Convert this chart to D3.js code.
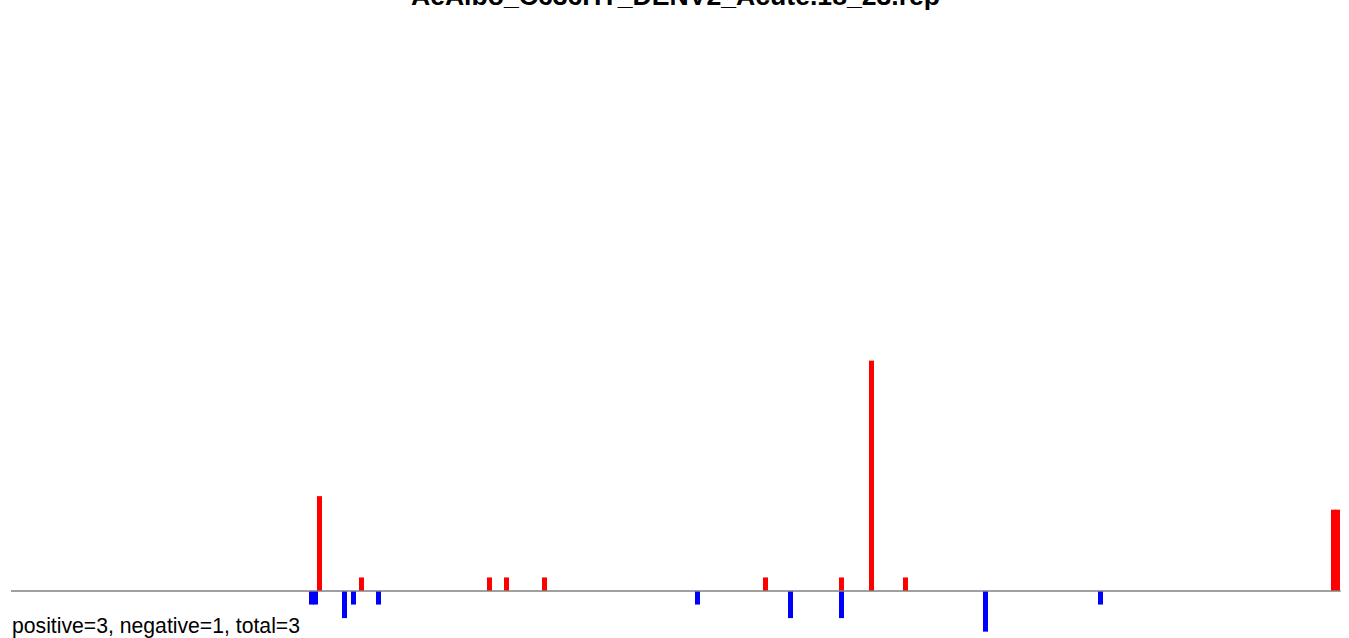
<!DOCTYPE html>
<html>
<head>
<meta charset="utf-8">
<script src="https://cdn.jsdelivr.net/npm/d3@7"></script>
<style>
  html, body { margin: 0; padding: 0; background: #fff; }
  svg { display: block; }
</style>
</head>
<body>
<svg id="chart" width="1349" height="638"></svg>
<script>
const title = "AeAlbo_C636HT_DENV2_Acute.18_23.rep";
const summary = "positive=3, negative=1, total=3";

// positions along the sequence (left edge) and counts
const posPositions = [306, 348, 476, 493, 531, 752, 828, 858, 892, 1320, 1324];
const posValues    = [7,   1,   1,   1,   1,   1,   1,   17,  1,   6,    6];
const negPositions = [298, 302, 331, 340, 365, 684, 777, 828, 972, 1087];
const negValues    = [1,   1,   2,   1,   1,   1,   2,   2,   3,   1];
const seqLength = 1329;
const barSpan = 5;

const svg = d3.select("#chart");
const x = d3.scaleLinear().domain([0, seqLength]).range([11, 1340]);
const y = d3.scaleLinear().domain([-3, 17]).range([631.65, 360.65]);

const pos = posPositions.map((p, i) => ({p, v: posValues[i]}));
const neg = negPositions.map((p, i) => ({p, v: -negValues[i]}));

svg.append("g").selectAll("rect").data(neg).join("rect")
  .attr("x", d => x(d.p))
  .attr("width", d => x(d.p + barSpan) - x(d.p))
  .attr("y", y(0))
  .attr("height", d => y(d.v) - y(0))
  .attr("fill", "#0000ff");

svg.append("g").selectAll("rect").data(pos).join("rect")
  .attr("x", d => x(d.p))
  .attr("width", d => x(d.p + barSpan) - x(d.p))
  .attr("y", d => y(d.v))
  .attr("height", d => y(0) - y(d.v))
  .attr("fill", "#ff0000");

svg.append("line")
  .attr("x1", x(0)).attr("x2", x(seqLength) + 0.7)
  .attr("y1", y(0)).attr("y2", y(0))
  .attr("stroke", "#808080").attr("stroke-width", 1.5);

svg.append("text")
  .attr("x", (x(0) + x(seqLength)) / 2)
  .attr("y", 5)
  .attr("text-anchor", "middle")
  .attr("font-family", "'Liberation Sans', Arial, sans-serif")
  .attr("font-weight", "bold")
  .attr("font-size", "26.6px")
  .attr("fill", "#000")
  .text(title);

svg.append("text")
  .attr("x", 12)
  .attr("y", 633)
  .attr("font-family", "'Liberation Sans', Arial, sans-serif")
  .attr("font-size", "21.2px")
  .attr("fill", "#000")
  .text(summary);
</script>
</body>
</html>
